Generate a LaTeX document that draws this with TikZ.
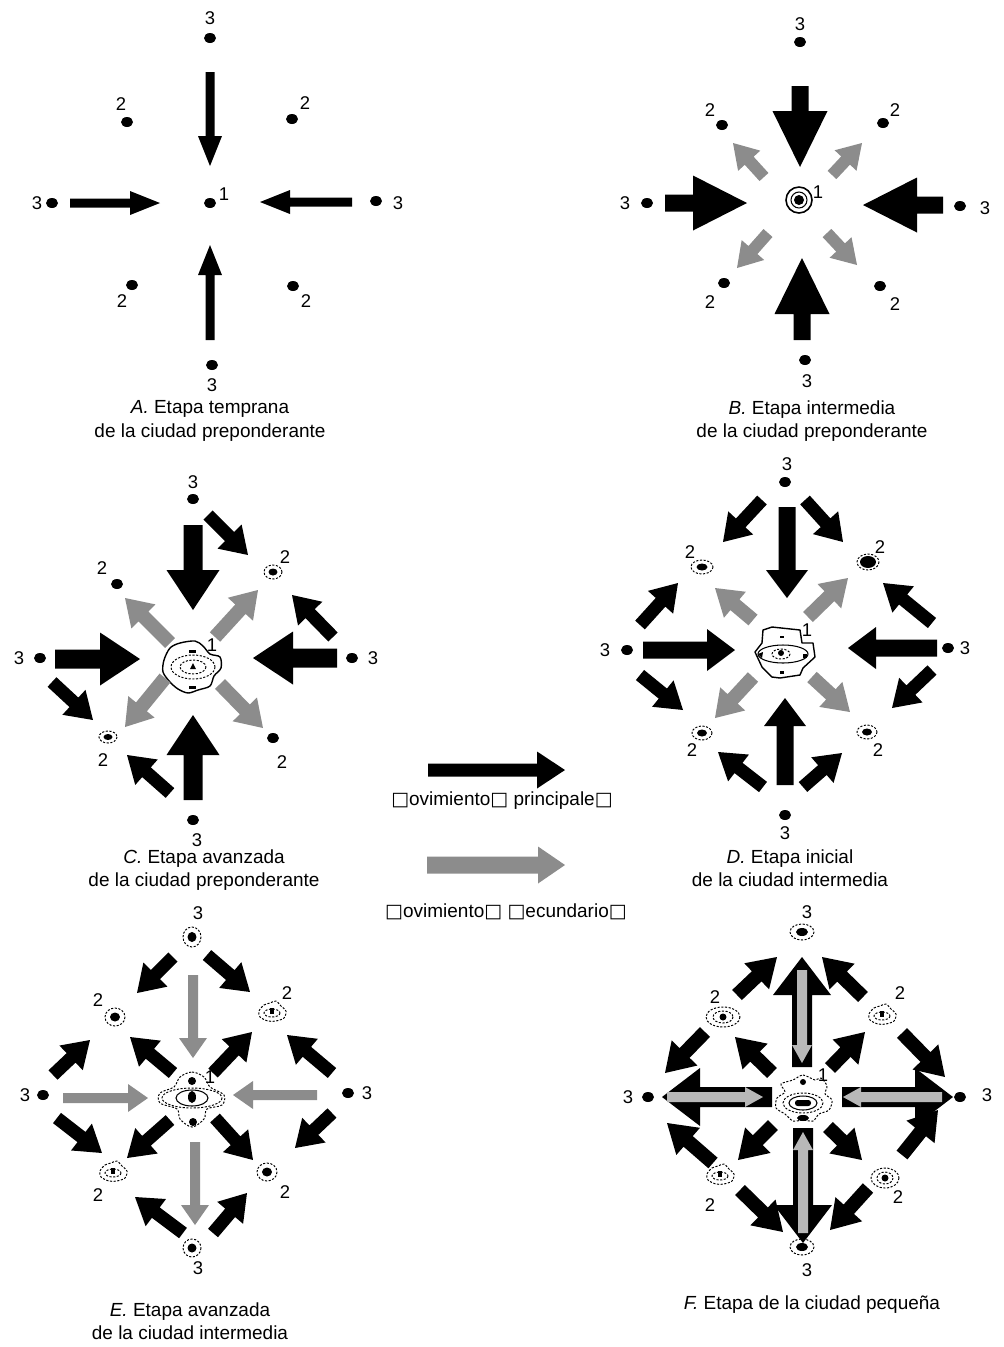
\documentclass[tikz,border=0pt]{standalone}
\usepackage{fontspec}
\setmainfont{Liberation Sans}
\newfontfamily\boxfont{DejaVu Sans}
\newcommand{\bx}{{\boxfont □}}
\tikzset{
  lbl/.style={font=\fontsize{10.5}{12}\selectfont, inner sep=0pt},
  captxt/.style={font=\fontsize{10.8}{13.2}\selectfont, align=center, inner sep=0pt},
  prim/.style={fill=black},
  sec/.style={fill=black!45},
  secin/.style={fill=black!28},
  dsh/.style={dash pattern=on 1.2pt off 0.9pt, line width=0.55pt},
  outl/.style={line width=0.8pt, line join=round},
}
% block arrow: tailx taily tipx tipy shaftwidth headwidth headlength style
\newcommand{\barr}[8]{%
  \pgfmathsetmacro{\arang}{atan2(-(#4-#2),#3-#1)}%
  \pgfmathsetmacro{\arlen}{veclen(#3-#1,#4-#2)}%
  \begin{scope}[shift={(#1,#2)},rotate=\arang]
    \fill[#8] (0,-#5/2) -- (\arlen-#7,-#5/2) -- (\arlen-#7,-#6/2) -- (\arlen,0)
      -- (\arlen-#7,#6/2) -- (\arlen-#7,#5/2) -- (0,#5/2) -- cycle;
  \end{scope}}
\newcommand{\pdot}[2]{\fill (#1,#2) ellipse [x radius=6, y radius=5];}
\newcommand{\rdot}[4]{\draw[dsh] (#1,#2) ellipse [x radius=#3, y radius=#4];
  \fill (#1,#2) ellipse [x radius=#3*0.5, y radius=#4*0.5];}
\newcommand{\bdot}[2]{%
  \begin{scope}[shift={(#1,#2)}]
    \draw[dsh] plot[smooth cycle] coordinates {(-13,-1) (-8,-7) (-2,-9) (4,-11) (9,-6) (14,-1) (12,6) (4,9) (-4,9) (-12,5)};
    \draw[dsh] (0,1) ellipse [x radius=8, y radius=4];
    \fill (-2,-4) rectangle (2,2);
  \end{scope}}
\begin{document}
\begin{tikzpicture}[x=0.02cm,y=-0.02cm]
\fill[white] (0,0) rectangle (1004,1347);
\useasboundingbox (0,0) rectangle (1004,1347);

%%%%%%%%%%%%%%%% Panel A
\pdot{210}{203}\pdot{210}{38}\pdot{212}{365}\pdot{52}{203}\pdot{376}{201}
\pdot{127}{122}\pdot{292}{119}\pdot{132}{285}\pdot{293}{286}
\node[lbl] (a1) at (224,194) {1};
\node[lbl] (a3t) at (210,18) {3};
\node[lbl] (a3b) at (212,385) {3};
\node[lbl] (a3l) at (37,203) {3};
\node[lbl] (a3r) at (398,203) {3};
\node[lbl] (a2a) at (121,104) {2};
\node[lbl] (a2b) at (305,103) {2};
\node[lbl] (a2c) at (122,301) {2};
\node[lbl] (a2d) at (306,301) {2};
\barr{210}{72}{210}{166}{9}{24}{30}{prim}
\barr{70}{203}{160}{203}{9}{24}{30}{prim}
\barr{352}{202}{260}{202}{9}{24}{30}{prim}
\barr{210}{340}{210}{245}{9}{24}{30}{prim}
\node[captxt] (capA) at (210,421) {\textit{A.} Etapa temprana\\de la ciudad preponderante};

%%%%%%%%%%%%%%%% Panel B
\begin{scope}[shift={(799,200)}]
  \draw[line width=0.9pt] (0,0) circle [radius=13];
  \draw[line width=0.6pt] (0,0) circle [radius=8];
  \fill (0,0) circle [radius=5];
\end{scope}
\pdot{800}{42}\pdot{805}{360}\pdot{647}{203}\pdot{960}{206}
\pdot{722}{125}\pdot{883}{123}\pdot{724}{283}\pdot{880}{286}
\node[lbl] (b1) at (818,192) {1};
\node[lbl] (b3t) at (800,24) {3};
\node[lbl] (b3b) at (807,381) {3};
\node[lbl] (b3l) at (625,203) {3};
\node[lbl] (b3r) at (985,208) {3};
\node[lbl] (b2a) at (710,110) {2};
\node[lbl] (b2b) at (895,110) {2};
\node[lbl] (b2c) at (710,302) {2};
\node[lbl] (b2d) at (895,304) {2};
\barr{800}{86}{800}{167}{17}{55}{56}{prim}
\barr{665}{203}{747}{203}{17}{55}{54}{prim}
\barr{943}{205}{863}{205}{17}{55}{54}{prim}
\barr{802}{340}{802}{258}{17}{55}{56}{prim}
\barr{764}{177}{733}{143}{12}{30}{24}{sec}
\barr{832}{175}{862}{143}{12}{30}{24}{sec}
\barr{768}{233}{737}{268}{12}{30}{24}{sec}
\barr{827}{233}{857}{265}{12}{30}{24}{sec}
\node[captxt] (capB) at (812,421) {\textit{B.} Etapa intermedia\\de la ciudad preponderante};

%%%%%%%%%%%%%%%% Panel C
\begin{scope}[shift={(193,667)}]
  \draw[outl] plot[smooth cycle, tension=0.5] coordinates {(-23,-19) (-13,-24) (2,-26) (10,-21) (17,-13) (27,-10) (28,1) (21,9) (17,19) (5,23) (-5,26) (-15,22) (-23,15) (-30,5) (-29,-7)};
  \draw[dsh] (0,0) ellipse [x radius=22, y radius=12];
  \draw[dsh] (0,0) ellipse [x radius=13, y radius=7];
  \fill (-3,2) -- (3,2) -- (0,-4) -- cycle;
  \fill (-4,-17) rectangle (3,-14);
  \fill (-4,19) rectangle (3,22);
\end{scope}
\pdot{193}{499}\pdot{193}{820}\pdot{40}{658}\pdot{352}{658}
\pdot{117}{584}\rdot{273}{572}{9}{7}\rdot{108}{737}{9}{6}\pdot{273}{738}
\node[lbl] (c1) at (212,645) {1};
\node[lbl] (c3t) at (193,482) {3};
\node[lbl] (c3b) at (197,840) {3};
\node[lbl] (c3l) at (19,658) {3};
\node[lbl] (c3r) at (373,658) {3};
\node[lbl] (c2a) at (102,568) {2};
\node[lbl] (c2b) at (285,557) {2};
\node[lbl] (c2c) at (103,760) {2};
\node[lbl] (c2d) at (282,762) {2};
\barr{193}{525}{193}{610}{19}{53}{40}{prim}
\barr{55}{659}{140}{659}{19}{53}{40}{prim}
\barr{337}{658}{253}{658}{19}{53}{40}{prim}
\barr{193}{800}{193}{715}{19}{53}{40}{prim}
\barr{208}{515}{248}{555}{13}{34}{26}{prim}
\barr{333}{637}{292}{595}{13}{34}{26}{prim}
\barr{52}{682}{93}{720}{13}{34}{26}{prim}
\barr{170}{793}{127}{755}{13}{34}{26}{prim}
\barr{170}{643}{125}{598}{14}{34}{26}{sec}
\barr{215}{637}{258}{590}{14}{34}{26}{sec}
\barr{165}{678}{125}{727}{14}{34}{26}{sec}
\barr{220}{684}{263}{728}{14}{34}{26}{sec}
\node[captxt] (capC) at (204,870) {\textit{C.} Etapa avanzada\\de la ciudad preponderante};

%%%%%%%%%%%%%%%% Legend
\barr{428}{770}{565}{770}{13}{37}{28}{prim}
\node[lbl, font=\fontsize{10.8}{13}\selectfont] (leg1) at (502,801) {\bx ovimiento\bx{} principale\bx};
\barr{427}{865}{565}{865}{17}{37}{27}{sec}
\node[lbl, font=\fontsize{10.8}{13}\selectfont] (leg2) at (506,912) {\bx ovimiento\bx{} \bx ecundario\bx};

%%%%%%%%%%%%%%%% Panel D
\begin{scope}[shift={(783,652)}]
  \draw[outl] (-20,-22) -- (-11,-25) -- (17,-22) -- (19,-9) -- (30,-9) -- (32,5) -- (20,16) -- (17,23) -- (-3,26) -- (-11,25) -- (-21,15) -- (-28,0) -- (-21,-9) -- cycle;
  \draw[line width=0.6pt] (0,2) ellipse [x radius=25, y radius=9];
  \draw[dsh] (-2,2) ellipse [x radius=9, y radius=5];
  \fill (-2,1) circle [radius=3];
  \fill (-3,-16) rectangle (1,-14);
  \fill (20,2) rectangle (24,6);
  \fill (-25,2) -- (-20,0) -- (-21,6) -- cycle;
  \fill (-3,19) rectangle (1,22);
\end{scope}
\pdot{785}{482}\pdot{785}{815}\pdot{627}{650}\pdot{948}{648}
\rdot{702}{567}{11}{7}
\begin{scope}[shift={(868,562)}]
  \draw[dsh] (0,0) ellipse [x radius=11, y radius=8];
  \fill (0,0) ellipse [x radius=8, y radius=6];
\end{scope}
\rdot{702}{733}{10}{7}\rdot{867}{732}{10}{7}
\node[lbl] (d1) at (807,630) {1};
\node[lbl] (d3t) at (787,464) {3};
\node[lbl] (d3b) at (785,833) {3};
\node[lbl] (d3l) at (605,650) {3};
\node[lbl] (d3r) at (965,648) {3};
\node[lbl] (d2a) at (690,552) {2};
\node[lbl] (d2b) at (880,547) {2};
\node[lbl] (d2c) at (692,750) {2};
\node[lbl] (d2d) at (878,750) {2};
\barr{787}{507}{787}{598}{17}{42}{28}{prim}
\barr{643}{650}{735}{650}{17}{42}{28}{prim}
\barr{937}{648}{848}{648}{17}{42}{28}{prim}
\barr{785}{785}{785}{698}{17}{42}{28}{prim}
\barr{762}{500}{723}{542}{13}{34}{26}{prim}
\barr{805}{500}{843}{542}{13}{34}{26}{prim}
\barr{640}{625}{678}{583}{13}{34}{26}{prim}
\barr{640}{675}{683}{710}{13}{34}{26}{prim}
\barr{932}{623}{883}{583}{13}{34}{26}{prim}
\barr{932}{670}{892}{708}{13}{34}{26}{prim}
\barr{763}{787}{718}{752}{13}{34}{26}{prim}
\barr{803}{787}{842}{753}{13}{34}{26}{prim}
\barr{753}{620}{715}{588}{14}{34}{26}{sec}
\barr{808}{617}{848}{578}{14}{34}{26}{sec}
\barr{753}{677}{715}{718}{14}{34}{26}{sec}
\barr{812}{677}{850}{712}{14}{34}{26}{sec}
\node[captxt] (capD) at (790,868) {\textit{D.} Etapa inicial\\de la ciudad intermedia};

%%%%%%%%%%%%%%%% Panel E
\begin{scope}[shift={(192,1097)}]
  \draw[dsh] plot[smooth cycle, tension=0.55] coordinates {(-12,-20) (0,-25) (12,-20) (18,-10) (32,-2) (30,8) (15,12) (12,22) (0,30) (-12,22) (-15,12) (-32,6) (-32,-4) (-18,-10)};
  \draw[dsh] (0,1) ellipse [x radius=30, y radius=10];
  \draw[line width=0.6pt] (0,1) ellipse [x radius=16, y radius=8];
  \fill (0,-16) circle [radius=4];
  \fill (0,0) ellipse [x radius=4, y radius=6];
  \fill (1,25) circle [radius=4];
\end{scope}
\rdot{192}{937}{9}{10}\rdot{192}{1248}{9}{9}\pdot{43}{1095}\pdot{348}{1093}
\rdot{115}{1017}{10}{9}\bdot{272}{1012}\bdot{113}{1172}\rdot{267}{1172}{10}{9}
\node[lbl] (e1) at (210,1077) {1};
\node[lbl] (e3t) at (198,913) {3};
\node[lbl] (e3b) at (198,1268) {3};
\node[lbl] (e3l) at (25,1095) {3};
\node[lbl] (e3r) at (367,1093) {3};
\node[lbl] (e2a) at (98,1000) {2};
\node[lbl] (e2b) at (287,993) {2};
\node[lbl] (e2c) at (98,1195) {2};
\node[lbl] (e2d) at (285,1192) {2};
\barr{193}{975}{193}{1058}{10}{28}{20}{sec}
\barr{63}{1098}{148}{1098}{10}{28}{20}{sec}
\barr{317}{1095}{233}{1095}{10}{28}{20}{sec}
\barr{195}{1142}{195}{1225}{10}{28}{20}{sec}
\barr{173}{957}{137}{993}{13}{34}{26}{prim}
\barr{207}{955}{250}{992}{13}{34}{26}{prim}
\barr{53}{1075}{90}{1040}{13}{34}{26}{prim}
\barr{57}{1118}{102}{1153}{13}{34}{26}{prim}
\barr{332}{1073}{287}{1035}{13}{34}{26}{prim}
\barr{332}{1113}{295}{1148}{13}{34}{26}{prim}
\barr{183}{1233}{135}{1197}{13}{34}{26}{prim}
\barr{213}{1233}{247}{1193}{13}{34}{26}{prim}
\barr{173}{1073}{130}{1037}{13}{34}{26}{prim}
\barr{213}{1073}{252}{1032}{13}{34}{26}{prim}
\barr{170}{1120}{127}{1158}{13}{34}{26}{prim}
\barr{215}{1118}{253}{1160}{13}{34}{26}{prim}
\node[captxt] (capE) at (190,1321) {\textit{E.} Etapa avanzada\\de la ciudad intermedia};

%%%%%%%%%%%%%%%% Panel F
\begin{scope}[shift={(803,1098)}]
  \draw[dsh] plot[smooth cycle, tension=0.5] coordinates {(-10,-18) (0,-23) (12,-18) (18,-20) (24,-12) (22,-4) (29,2) (26,12) (16,16) (10,23) (0,22) (-10,23) (-18,16) (-27,10) (-26,0) (-18,-6) (-22,-14)};
  \draw[dsh] (0,5) ellipse [x radius=20, y radius=10];
  \draw[line width=0.6pt] (0,5) ellipse [x radius=14, y radius=7];
  \fill[rounded corners=1.5pt] (-8,2) rectangle (8,8);
  \fill (0,-16) circle [radius=3];
  \fill (0,20) ellipse [x radius=6, y radius=3];
\end{scope}
\rdot{802}{932}{12}{8}\rdot{802}{1247}{12}{8}\pdot{648}{1097}\pdot{960}{1097}
\begin{scope}[shift={(723,1017)}]
  \draw[dsh] (0,0) ellipse [x radius=17, y radius=10];
  \draw[dsh] (0,0) ellipse [x radius=10, y radius=6];
  \fill (0,0) circle [radius=3.5];
\end{scope}
\bdot{882}{1015}\bdot{720}{1175}
\begin{scope}[shift={(885,1178)}]
  \draw[dsh] (0,0) ellipse [x radius=14, y radius=10];
  \draw[dsh] (0,0) ellipse [x radius=8, y radius=6];
  \fill (0,0) circle [radius=3.5];
\end{scope}
\node[lbl] (f1) at (823,1075) {1};
\node[lbl] (f3t) at (807,912) {3};
\node[lbl] (f3b) at (807,1270) {3};
\node[lbl] (f3l) at (628,1097) {3};
\node[lbl] (f3r) at (987,1095) {3};
\node[lbl] (f2a) at (715,997) {2};
\node[lbl] (f2b) at (900,993) {2};
\node[lbl] (f2c) at (710,1205) {2};
\node[lbl] (f2d) at (898,1197) {2};
% composite main arrows
\barr{802}{1067}{802}{957}{20}{58}{38}{prim}
\barr{802}{970}{802}{1063}{10}{20}{18}{secin}
\barr{772}{1097}{662}{1097}{20}{58}{38}{prim}
\barr{667}{1097}{763}{1097}{10}{20}{18}{secin}
\barr{842}{1097}{953}{1097}{20}{58}{38}{prim}
\barr{942}{1097}{843}{1097}{10}{20}{18}{secin}
\barr{803}{1128}{803}{1243}{20}{58}{38}{prim}
\barr{803}{1233}{803}{1132}{10}{20}{18}{secin}
% outer diagonals
\barr{737}{995}{777}{957}{14}{36}{28}{prim}
\barr{863}{997}{822}{957}{14}{36}{28}{prim}
\barr{705}{1032}{665}{1073}{14}{36}{28}{prim}
\barr{902}{1033}{945}{1077}{14}{36}{28}{prim}
\barr{713}{1163}{667}{1123}{14}{36}{28}{prim}
\barr{902}{1155}{938}{1110}{14}{36}{28}{prim}
\barr{740}{1190}{783}{1232}{14}{36}{28}{prim}
\barr{868}{1188}{830}{1230}{14}{36}{28}{prim}
% inner diagonals
\barr{772}{1073}{735}{1037}{14}{36}{28}{prim}
\barr{830}{1068}{865}{1032}{14}{36}{28}{prim}
\barr{773}{1125}{738}{1160}{14}{36}{28}{prim}
\barr{828}{1127}{862}{1160}{14}{36}{28}{prim}
\node[lbl, font=\fontsize{10.8}{13}\selectfont] (capF) at (812,1305) {\textit{F.} Etapa de la ciudad pequeña};
\end{tikzpicture}
\end{document}
